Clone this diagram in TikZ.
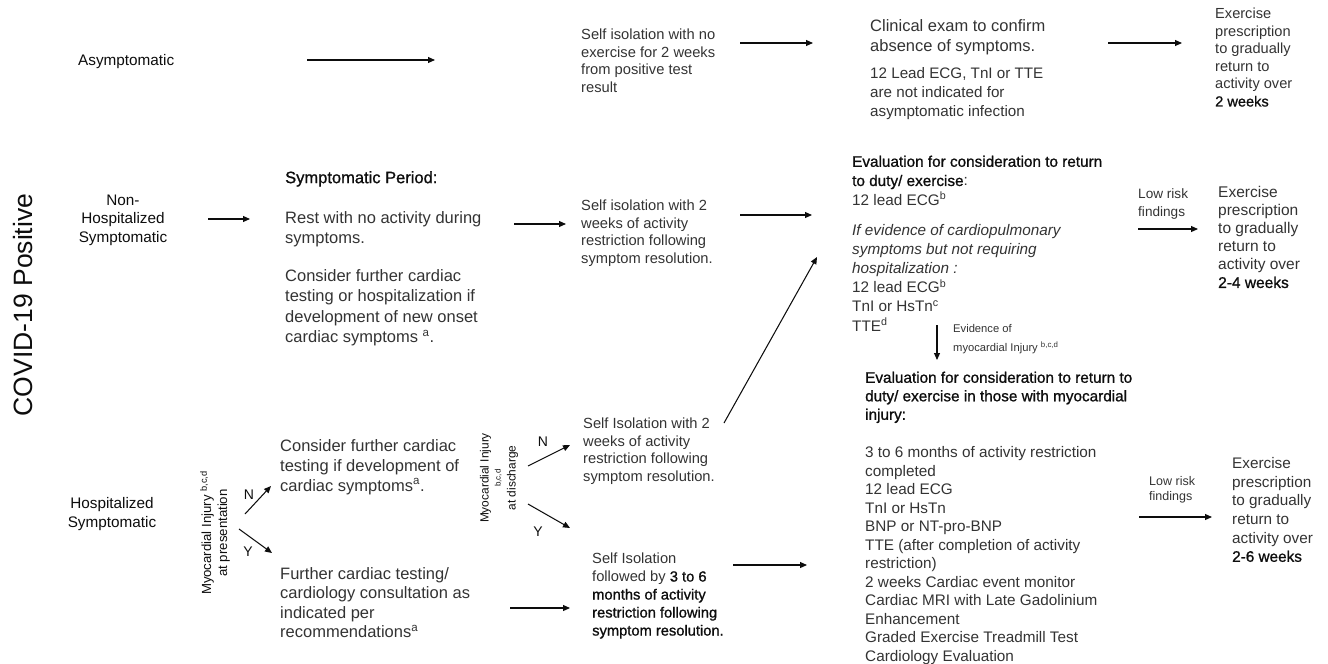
\documentclass[tikz,border=0pt]{standalone}
\usepackage{fontspec}
\setmainfont{Liberation Sans}
\newfontfamily\heavy[FakeBold=1]{Liberation Sans}
\usetikzlibrary{arrows.meta,positioning}
\usepackage{xcolor}
\definecolor{ink}{HTML}{333333}
\definecolor{dark}{HTML}{0D0D0D}
\newcommand{\fs}[2]{\fontsize{#1}{#2}\selectfont}
\newcommand{\hv}[1]{{\heavy\color{dark}#1}}

\begin{document}
\begin{tikzpicture}[
  x=1pt, y=-1pt,
  txt/.style={anchor=north west, inner sep=0pt, align=left, text=ink, font=\fs{14.7}{17.7}},
  mid/.style={txt, font=\fs{15.3}{18.6}},
  big/.style={txt, font=\fs{16.5}{20.3}},
  note/.style={txt, font=\fs{13.6}{18}},
  rowlabel/.style={anchor=north, inner sep=0pt, align=center, text=dark, font=\fs{15.3}{18.5}},
  side/.style={rotate=90, inner sep=0pt, align=center, text=dark},
  yn/.style={inner sep=0pt, text=dark, font=\fs{14}{16}},
  arr/.style={-{Triangle[length=7pt,width=6pt]}, line width=1.05pt, dark}
]
\useasboundingbox (0,0) rectangle (1328,664);

\node[side, font=\fs{26.5}{30}] (covid) at (23.5,305) {COVID-19 Positive};

\node[mid, text=dark] (asym) at (78,54.6) {Asymptomatic};
\node[txt] (selfisoA) at (581,28.7) {Self isolation with no\\exercise for 2 weeks\\from positive test\\result};
\node[big] (clin) at (870,19) {Clinical exam to confirm\\absence of symptoms.};
\node[txt, font=\fs{15.2}{19}] (clinnote) at (870,67.5) {12 Lead ECG, TnI or TTE\\are not indicated for\\asymptomatic infection};
\node[txt, font=\fs{14.6}{17.6}] (exA) at (1215,7.7) {Exercise\\prescription\\to gradually\\return to\\activity over\\\hv{2 weeks}};

\node[rowlabel] (nonhosp) at (123,194.5) {Non-\\Hospitalized\\Symptomatic};
\node[big] (symp) at (285,171) {\hv{Symptomatic Period:}\\[19.7pt]Rest with no activity during\\symptoms.\\[17.7pt]Consider further cardiac\\testing or hospitalization if\\development of new onset\\cardiac symptoms \textsuperscript{a}.};
\node[txt] (selfisoB) at (581,199.7) {Self isolation with 2\\weeks of activity\\restriction following\\symptom resolution.};
\node[mid, font=\fs{15.3}{19.2}] (evalA) at (852,155.5) {\hv{Evaluation for consideration to return}\\\hv{to duty/ exercise}:\\12 lead ECG\textsuperscript{b}\\[10.8pt]\textit{If evidence of cardiopulmonary}\\\textit{symptoms but not requiring}\\\textit{hospitalization :}\\12 lead ECG\textsuperscript{b}\\TnI or HsTn\textsuperscript{c}\\TTE\textsuperscript{d}};
\node[note] (lowA) at (1138,188) {Low risk\\findings};
\node[txt, font=\fs{15.5}{18}] (exB) at (1218,186.5) {Exercise\\prescription\\to gradually\\return to\\activity over\\\hv{2-4 weeks}};
\node[txt, font=\fs{11.2}{19}] (evid) at (953,324) {Evidence of\\myocardial Injury \textsuperscript{b,c,d}};

\node[rowlabel] (hosp) at (112,497.5) {Hospitalized\\Symptomatic};
\node[side, font=\fs{13.2}{16}] (pres) at (215,533) {Myocardial Injury \textsuperscript{b,c,d}\\at presentation};
\node[big, font=\fs{16.5}{20}] (consider) at (280,439) {Consider further cardiac\\testing if development of\\cardiac symptoms\textsuperscript{a}.};
\node[big, font=\fs{16.5}{19.5}] (further) at (280,567) {Further cardiac testing/\\cardiology consultation as\\indicated per\\recommendations\textsuperscript{a}};
\node[side, font=\fs{11.9}{12}] (disch) at (499,478) {Myocardial Injury\\{\fs{8}{9}b,c,d}\\[3pt]at discharge};
\node[txt] (selfisoC) at (583,417.7) {Self Isolation with 2\\weeks of activity\\restriction following\\symptom resolution.};
\node[txt, font=\fs{14.7}{18}] (selfisoD) at (592,552.7) {Self Isolation\\followed by \hv{3 to 6}\\\hv{months of activity}\\\hv{restriction following}\\\hv{symptom resolution.}};
\node[mid, font=\fs{15.3}{18.5}] (evalB) at (865,371.5) {\hv{Evaluation for consideration to return to}\\\hv{duty/ exercise in those with myocardial}\\\hv{injury:}\\[19.5pt]3 to 6 months of activity restriction\\completed\\12 lead ECG\\TnI or HsTn\\BNP or NT-pro-BNP\\TTE (after completion of activity\\restriction)\\2 weeks Cardiac event monitor\\Cardiac MRI with Late Gadolinium\\Enhancement\\Graded Exercise Treadmill Test\\Cardiology Evaluation};
\node[note, font=\fs{12.5}{15}] (lowB) at (1149,476.5) {Low risk\\findings};
\node[mid] (exC) at (1232,457.5) {Exercise\\prescription\\to gradually\\return to\\activity over\\\hv{2-6 weeks}};

\node[yn] (n1) at (249,495) {N};
\node[yn] (y1) at (248,552) {Y};
\node[yn] (n2) at (543,442) {N};
\node[yn] (y2) at (538,532) {Y};

\coordinate (t1) at (307,60);
\coordinate (t2) at (740,43);
\coordinate (t3) at (1108,43);
\coordinate (t4) at (208,219);
\coordinate (t5) at (514,224);
\coordinate (t6) at (740,215);
\coordinate (t7) at (1138,229);
\coordinate (t8) at (937,325);
\coordinate (t9) at (724,423);
\coordinate (h9) at (817,257);
\coordinate (n1a) at (245,514);
\coordinate (n1b) at (271,486);
\coordinate (y1a) at (239,529);
\coordinate (y1b) at (272,553);
\coordinate (n2a) at (528,466);
\coordinate (n2b) at (570,445);
\coordinate (y2a) at (528,504);
\coordinate (y2b) at (570,528);
\coordinate (t14) at (510,608);
\coordinate (t15) at (733,565);
\coordinate (t16) at (1139,517);

\draw[arr, shorten >=146pt] (t1) -- (t1 -| selfisoA.west);
\draw[arr, shorten >=57pt] (t2) -- (t2 -| clin.west);
\draw[arr, shorten >=33pt] (t3) -- (t3 -| exA.west);
\draw[arr, shorten >=35pt] (t4) -- (t4 -| symp.west);
\draw[arr, shorten >=15pt] (t5) -- (t5 -| selfisoB.west);
\draw[arr, shorten >=40pt] (t6) -- (t6 -| evalA.west);
\draw[arr, shorten >=20pt] (t7) -- (t7 -| exB.west);
\draw[arr, shorten >=11.5pt] (t8) -- (t8 |- evalB.north);
\draw[arr] (t9) -- (h9);
\draw[arr] (n1a) -- (n1b);
\draw[arr] (y1a) -- (y1b);
\draw[arr] (n2a) -- (n2b);
\draw[arr] (y2a) -- (y2b);
\draw[arr, shorten >=22pt] (t14) -- (t14 -| selfisoD.west);
\draw[arr, shorten >=58pt] (t15) -- (t15 -| evalB.west);
\draw[arr, shorten >=20pt] (t16) -- (t16 -| exC.west);
\end{tikzpicture}
\end{document}
